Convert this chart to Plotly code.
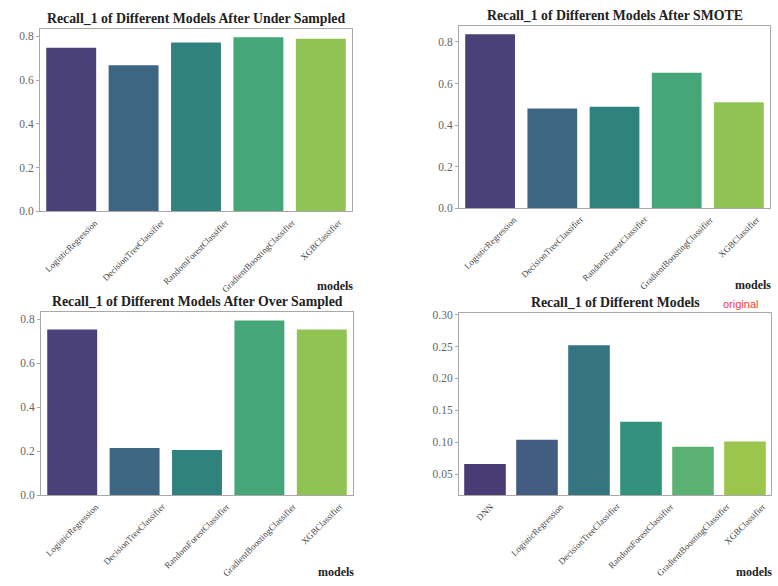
import colorsys
import plotly.graph_objects as go
from plotly.colors import sample_colorscale, unlabel_rgb

# ---- data -------------------------------------------------------------
models5 = ["LogisticRegression", "DecisionTreeClassifier", "RandomForestClassifier",
           "GradientBoostingClassifier", "XGBClassifier"]
models6 = ["DNN"] + models5

recall_under = [0.748, 0.668, 0.772, 0.796, 0.790]
recall_smote = [0.836, 0.480, 0.488, 0.652, 0.510]
recall_over = [0.754, 0.216, 0.206, 0.795, 0.754]
recall_orig = [0.066, 0.104, 0.252, 0.132, 0.093, 0.101]

titles = ["Recall_1 of Different Models After Under Sampled",
          "Recall_1 of Different Models After SMOTE",
          "Recall_1 of Different Models After Over Sampled",
          "Recall_1 of Different Models"]

# ---- styling helpers ----------------------------------------------------
SERIF = "Liberation Serif, Times New Roman, serif"
FRAME = "#a8a8a8"


def viridis_palette(n, sat=0.75):
    pos = [(i + 1) / (n + 1) for i in range(n)]
    out = []
    for c in sample_colorscale("Viridis", pos):
        r, g, b = [v / 255 for v in unlabel_rgb(c)]
        h, l, s = colorsys.rgb_to_hls(r, g, b)
        r, g, b = colorsys.hls_to_rgb(h, l, s * sat)
        out.append("rgb(%d,%d,%d)" % (round(r * 255), round(g * 255), round(b * 255)))
    return out


# axes boxes in pixels: (x0, x1, y0, y1)
W, H = 778, 586
boxes = [
    (40, 352, 25, 211),
    (459, 770, 22, 208),
    (41, 353, 313, 500),
    (459, 771, 314, 500),
]
panels = [
    (models5, recall_under, [0, 0.836], [0, 0.2, 0.4, 0.6, 0.8], "%.1f"),
    (models5, recall_smote, [0, 0.878], [0, 0.2, 0.4, 0.6, 0.8], "%.1f"),
    (models5, recall_over, [0, 0.835], [0, 0.2, 0.4, 0.6, 0.8], "%.1f"),
    (models6, recall_orig, [0.0166, 0.303], [0.05, 0.10, 0.15, 0.20, 0.25, 0.30], "%.2f"),
]
label_y = [287, 286, 578, 578]

fig = go.Figure()
annotations = []
layout = {}

for i, ((cats, vals, yr, yt, fmt), (x0, x1, y0, y1)) in enumerate(zip(panels, boxes)):
    k = "" if i == 0 else str(i + 1)
    xa, ya = "x" + k, "y" + k
    dx = [x0 / W, x1 / W]
    dy = [1 - y1 / H, 1 - y0 / H]
    fig.add_trace(go.Bar(
        x=cats, y=vals, xaxis=xa, yaxis=ya,
        marker=dict(color=viridis_palette(len(cats)), line=dict(width=0)),
        showlegend=False,
    ))
    layout["xaxis" + k] = dict(
        domain=dx, anchor=ya, type="category",
        range=[-0.5, len(cats) - 0.5], showticklabels=False,
        showline=True, linecolor=FRAME, linewidth=1, mirror=True,
        ticks="", showgrid=False, zeroline=False,
    )
    layout["yaxis" + k] = dict(
        domain=dy, anchor=xa, range=yr, tickvals=yt,
        ticktext=[fmt % v for v in yt],
        showline=True, linecolor=FRAME, linewidth=1, mirror=True,
        ticks="outside", ticklen=3, tickcolor=FRAME,
        tickfont=dict(family=SERIF, size=11.5, color="#666666"),
        showgrid=False, zeroline=False,
    )
    # rotated category labels centred under each bar
    for c in cats:
        annotations.append(dict(
            x=c, xref=xa, y=dy[0], yref="paper", yshift=-3,
            text=c, textangle=-45, showarrow=False,
            xanchor="center", yanchor="top",
            font=dict(family=SERIF, size=9, color="#444444"),
        ))
    # panel title
    annotations.append(dict(
        x=(dx[0] + dx[1]) / 2, xref="paper", y=dy[1], yref="paper", yshift=1,
        text="<b>%s</b>" % titles[i], showarrow=False,
        xanchor="center", yanchor="bottom",
        font=dict(family=SERIF, size=13.8, color="#222222"),
    ))
    # x-axis label at the right end
    annotations.append(dict(
        x=dx[1] + 3 / W, xref="paper", y=1 - label_y[i] / H, yref="paper",
        text="<b>models</b>", showarrow=False,
        xanchor="right", yanchor="middle",
        font=dict(family=SERIF, size=12, color="#222222"),
    ))

annotations.append(dict(
    x=740 / W, xref="paper", y=1 - 305 / H, yref="paper",
    text="original", showarrow=False, xanchor="center", yanchor="middle",
    font=dict(family="Liberation Sans, Arial, sans-serif", size=11, color="#f03a3a"),
))

fig.update_layout(
    width=W, height=H, margin=dict(l=0, r=0, t=0, b=0),
    paper_bgcolor="white", plot_bgcolor="white",
    bargap=0.2, annotations=annotations, **layout,
)

fig.write_html("out.html")
